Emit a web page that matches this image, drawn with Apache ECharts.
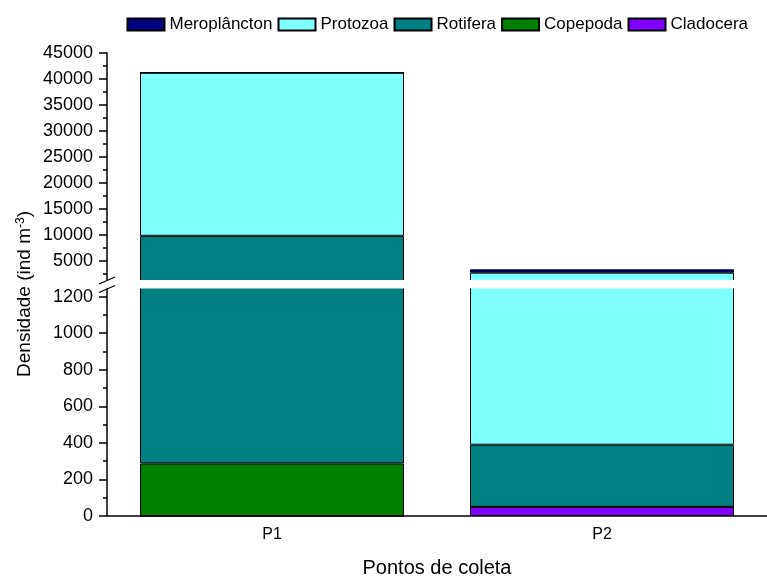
<!DOCTYPE html>
<html>
<head>
<meta charset="utf-8">
<script src="https://cdn.jsdelivr.net/npm/echarts@6/dist/echarts.min.js"></script>
<style>
html,body{margin:0;padding:0;background:#fff;}
#chart{width:767px;height:579px;}
</style>
</head>
<body>
<div id="chart"></div>
<script>
// ---- data ----
const categories = ['P1', 'P2'];
const meroplancton = [0, 650];
const protozoa = [31370, 2300];
const rotifera = [9495, 340];
const copepoda = [287, 0];
const cladocera = [0, 50];

const upperTicks = [5000, 10000, 15000, 20000, 25000, 30000, 35000, 40000, 45000];
const upperMinorTicks = [2500, 7500, 12500, 17500, 22500, 27500, 32500, 37500, 42500];
const lowerTicks = [0, 200, 400, 600, 800, 1000, 1200];
const lowerMinorTicks = [100, 300, 500, 700, 900, 1100];

const legendOrder = ['Meroplâncton', 'Protozoa', 'Rotifera', 'Copepoda', 'Cladocera'];
// ---- end data ----

const FONT = "'Liberation Sans', Arial, sans-serif";
const colors = {
  'Meroplâncton': '#000080',
  'Protozoa': '#80FFFF',
  'Rotifera': '#008080',
  'Copepoda': '#008000',
  'Cladocera': '#8000FF'
};
// bottom-to-top stacking order
const stackSeries = [
  ['Cladocera', cladocera],
  ['Copepoda', copepoda],
  ['Rotifera', rotifera],
  ['Protozoa', protozoa],
  ['Meroplâncton', meroplancton]
];

function makeSeries(xIdx, yIdx, stack) {
  return stackSeries.map(([name, data]) => ({
    name: name,
    type: 'bar',
    stack: stack,
    xAxisIndex: xIdx,
    yAxisIndex: yIdx,
    barWidth: '80%',
    clip: true,
    data: data,
    itemStyle: { color: colors[name], borderColor: '#000', borderWidth: 1 },
    emphasis: { disabled: true }
  }));
}

const chart = echarts.init(document.getElementById('chart'), null, { renderer: 'canvas' });

const plotLeft = 107;
const plotRight = 0;
const upperTop = 52.7;
const upperBottom = 282;
const lowerTop = 285.7;
const lowerBottom = 517;
const plain = v => String(v);

const option = {
  animation: false,
  backgroundColor: '#fff',
  textStyle: { fontFamily: FONT },
  legend: {
    data: legendOrder,
    top: 11,
    right: 14,
    itemWidth: 37,
    itemHeight: 12,
    itemGap: 5,
    icon: 'rect',
    textStyle: { fontSize: 17, color: '#000', fontFamily: FONT },
    selectedMode: false
  },
  grid: [
    { left: plotLeft, right: plotRight, top: upperTop, height: upperBottom - upperTop, containLabel: false },
    { left: plotLeft, right: plotRight, top: lowerTop, height: lowerBottom - lowerTop, containLabel: false }
  ],
  xAxis: [
    { type: 'category', gridIndex: 0, data: categories, show: false },
    {
      type: 'category', gridIndex: 1, data: categories,
      axisLine: { lineStyle: { color: '#000', width: 1.5 } },
      axisTick: { alignWithLabel: true, length: 8, lineStyle: { color: '#000', width: 1.5 } },
      axisLabel: { fontSize: 16, color: '#000', margin: 11, fontFamily: FONT },
      name: 'Pontos de coleta',
      nameLocation: 'middle',
      nameGap: 42,
      nameTextStyle: { fontSize: 20, color: '#000', fontFamily: FONT }
    },
    {
      type: 'category', gridIndex: 1, data: categories,
      axisLine: { show: false },
      axisTick: { alignWithLabel: false, length: 4, lineStyle: { color: '#000', width: 1.5 } },
      axisLabel: { show: false }
    }
  ],
  yAxis: [
    {
      type: 'value', gridIndex: 0, min: 900, max: 45000,
      axisLine: { show: true, lineStyle: { color: '#000', width: 1.5 } },
      axisTick: { show: true, length: 8, customValues: upperTicks, lineStyle: { color: '#000', width: 1.5 } },
      axisLabel: { customValues: upperTicks, formatter: plain, fontSize: 18, color: '#000', margin: 14, fontFamily: FONT },
      splitLine: { show: false }
    },
    {
      type: 'value', gridIndex: 0, min: 900, max: 45000, position: 'left',
      axisLine: { show: false },
      axisTick: { show: true, length: 4, customValues: upperMinorTicks, lineStyle: { color: '#000', width: 1.5 } },
      axisLabel: { show: false },
      splitLine: { show: false }
    },
    {
      type: 'value', gridIndex: 1, min: 0, max: 1260,
      axisLine: { show: true, lineStyle: { color: '#000', width: 1.5 } },
      axisTick: { show: true, length: 8, customValues: lowerTicks, lineStyle: { color: '#000', width: 1.5 } },
      axisLabel: { customValues: lowerTicks, formatter: plain, fontSize: 18, color: '#000', margin: 14, fontFamily: FONT },
      splitLine: { show: false }
    },
    {
      type: 'value', gridIndex: 1, min: 0, max: 1260, position: 'left',
      axisLine: { show: false },
      axisTick: { show: true, length: 4, customValues: lowerMinorTicks, lineStyle: { color: '#000', width: 1.5 } },
      axisLabel: { show: false },
      splitLine: { show: false }
    }
  ],
  series: makeSeries(0, 0, 'upper').concat(makeSeries(1, 2, 'lower')),
  graphic: [
    {
      type: 'rect', z: 100,
      shape: { x: 100, y: 280, width: 667, height: 8.5 },
      style: { fill: '#fff' }
    },
    {
      type: 'line', z: 101,
      shape: { x1: 99, y1: 284, x2: 115, y2: 277 },
      style: { stroke: '#000', lineWidth: 1.3 }
    },
    {
      type: 'line', z: 101,
      shape: { x1: 99, y1: 292.5, x2: 115, y2: 285.5 },
      style: { stroke: '#000', lineWidth: 1.3 }
    },
    {
      type: 'text', z: 101,
      x: 25, y: 294,
      rotation: Math.PI / 2,
      style: {
        text: 'Densidade (ind m{sup|-3})',
        font: '19px ' + FONT,
        fill: '#000',
        align: 'center',
        verticalAlign: 'middle',
        rich: {
          sup: { fontSize: 12, fontFamily: FONT, fill: '#000', verticalAlign: 'top', padding: [0, 0, 9, 0] }
        }
      }
    }
  ]
};
chart.setOption(option);
</script>
</body>
</html>
